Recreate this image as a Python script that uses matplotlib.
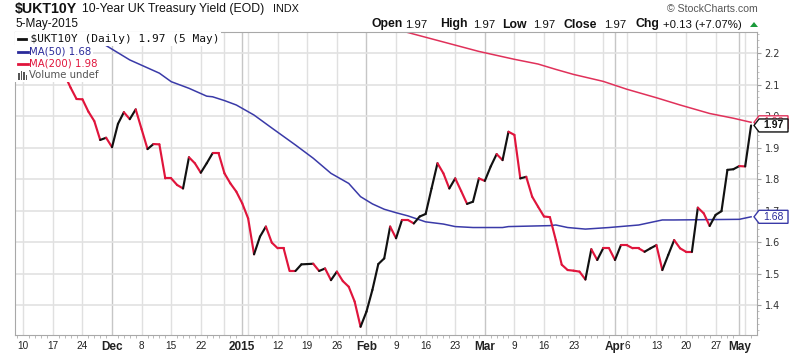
import numpy as np
import pandas as pd
import matplotlib
matplotlib.use("Agg")
import matplotlib.pyplot as plt
from matplotlib.collections import LineCollection
from matplotlib.patches import Polygon, Rectangle
from matplotlib.lines import Line2D

# ---------------- data ----------------
start_date = "2014-11-06"
end_date = "2015-05-05"
holidays = ["2014-12-25", "2015-01-01", "2015-04-03"]

# daily close of $UKT10Y, one value per trading day from start_date
price = [2.22, 2.23, 2.21, 2.24, 2.20, 2.17, 2.16, 2.18, 2.15, 2.13,
         2.09, 2.054, 2.053, 2.014, 1.984, 1.924, 1.931, 1.901, 1.975, 2.012,
         1.990, 2.021, 1.958, 1.895, 1.911, 1.910, 1.802, 1.802, 1.781, 1.770,
         1.869, 1.850, 1.820, 1.850, 1.882, 1.882, 1.818, 1.786, 1.760, 1.723,
         1.675, 1.561, 1.617, 1.649, 1.598, 1.580, 1.580, 1.508, 1.508, 1.529,
         1.530, 1.531, 1.508, 1.516, 1.479, 1.506, 1.476, 1.458, 1.411, 1.331,
         1.379, 1.448, 1.530, 1.548, 1.649, 1.612, 1.670, 1.670, 1.659, 1.681,
         1.689, 1.770, 1.850, 1.818, 1.770, 1.802, 1.762, 1.721, 1.728, 1.802,
         1.794, 1.840, 1.879, 1.860, 1.950, 1.940, 1.802, 1.807, 1.744, 1.712,
         1.681, 1.679, 1.606, 1.528, 1.511, 1.509, 1.506, 1.481, 1.577, 1.543,
         1.580, 1.580, 1.543, 1.590, 1.590, 1.580, 1.580, 1.569, 1.580, 1.590,
         1.511, 1.559, 1.606, 1.580, 1.569, 1.569, 1.709, 1.691, 1.651, 1.686,
         1.698, 1.829, 1.831, 1.841, 1.840, 1.970]

ma50_dates = ["2014-11-14", "2014-11-24", "2014-11-27", "2014-12-04", "2014-12-11",
              "2014-12-15", "2014-12-18", "2014-12-23", "2014-12-24", "2014-12-29",
              "2014-12-31", "2015-01-06", "2015-01-09", "2015-01-15", "2015-01-20",
              "2015-01-23", "2015-01-28", "2015-01-30", "2015-02-03", "2015-02-05",
              "2015-02-09", "2015-02-11", "2015-02-16", "2015-02-19", "2015-02-23",
              "2015-02-26", "2015-03-05", "2015-03-06", "2015-03-17", "2015-03-18",
              "2015-03-20", "2015-03-25", "2015-03-31", "2015-04-08", "2015-04-14",
              "2015-04-16", "2015-05-01", "2015-05-05"]
ma50_vals = [2.31, 2.265, 2.235, 2.178, 2.136,
             2.109, 2.088, 2.063, 2.061, 2.049,
             2.035, 2.003, 1.962, 1.908, 1.866,
             1.818, 1.786, 1.744, 1.721, 1.704,
             1.693, 1.683, 1.664, 1.657, 1.649,
             1.646, 1.646, 1.649, 1.652, 1.654,
             1.646, 1.641, 1.646, 1.654, 1.670,
             1.670, 1.672, 1.68]

ma200_dates = ["2015-02-09", "2015-02-13", "2015-02-20", "2015-02-27", "2015-03-09",
               "2015-03-13", "2015-03-18", "2015-03-23", "2015-03-30", "2015-04-06",
               "2015-04-13", "2015-04-17", "2015-04-24", "2015-04-30", "2015-05-05"]
ma200_vals = [2.275, 2.255, 2.23, 2.205, 2.18,
              2.165, 2.148, 2.132, 2.11, 2.085,
              2.058, 2.035, 2.008, 1.993, 1.98]

tick_dates = ["2014-11-10", "2014-11-17", "2014-11-24", "2014-12-01", "2014-12-08",
              "2014-12-15", "2014-12-22", "2014-12-29", "2015-01-02", "2015-01-05",
              "2015-01-12", "2015-01-19", "2015-01-26", "2015-02-02", "2015-02-09",
              "2015-02-16", "2015-02-23", "2015-03-02", "2015-03-09", "2015-03-16",
              "2015-03-23", "2015-03-30", "2015-04-01", "2015-04-06", "2015-04-13",
              "2015-04-20", "2015-04-27", "2015-05-01", "2015-05-04"]
tick_labels = ["10", "17", "24", "Dec", "8", "15", "22", "", "2015", "",
               "12", "19", "26", "Feb", "9", "16", "23", "Mar", "9", "16",
               "23", "", "Apr", "6", "13", "20", "27", "May", ""]
bold_labels = ["Dec", "2015", "Feb", "Mar", "Apr", "May"]
y_ticks = [1.4, 1.5, 1.6, 1.7, 1.8, 1.9, 2.0, 2.1, 2.2]

last_close = 1.97
last_ma50 = 1.68
last_ma200 = 1.98

# ---------------- calendar (trading-day axis) ----------------
days = pd.bdate_range(start_date, end_date)
days = days[~days.isin(pd.to_datetime(holidays))]
pos = {d: i for i, d in enumerate(days)}
xs = np.arange(len(days))

def xpos(dl):
    return np.array([pos[pd.Timestamp(d)] for d in dl])

# ---------------- figure ----------------
W, H = 800, 360
fig = plt.figure(figsize=(W / 100, H / 100), dpi=100)
ax_l, ax_r, ax_t, ax_b = 15, 757, 32, 335
ax = fig.add_axes([ax_l / W, 1 - ax_b / H, (ax_r - ax_l) / W, (ax_b - ax_t) / H])
y0, y1 = 1.3048, 2.2667
ax.set_ylim(y0, y1)
ax.set_xlim(0.6, 126.0)

# grid
for d, lab in zip(tick_dates, tick_labels):
    c = "#c6c6c6" if lab in bold_labels else "#e0e0e0"
    ax.axvline(pos[pd.Timestamp(d)], color=c, lw=1.0, zorder=0)
for v in y_ticks:
    ax.axhline(v, color="#e2e2e2", lw=1.2, zorder=0)

# moving averages
ax.plot(xpos(ma50_dates), ma50_vals, color="#3a3aa8", lw=1.1, zorder=2)
ax.plot(xpos(ma200_dates), ma200_vals, color="#e0315a", lw=1.1, zorder=2)

# price line: black when up, red when down
p = np.array(price)
segs = [[(xs[i - 1], p[i - 1]), (xs[i], p[i])] for i in range(1, len(p))]
cols = ["#111111" if p[i] > p[i - 1] else "#e0153c" for i in range(1, len(p))]
lc = LineCollection(segs, colors=cols, linewidths=1.55, capstyle="round",
                    joinstyle="round", zorder=3)
ax.add_collection(lc)

# axes styling
for s in ax.spines.values():
    s.set_color("#a8a8a8")
    s.set_linewidth(0.8)
ax.set_xticks(xpos(tick_dates))
ax.set_xticklabels(tick_labels, fontfamily="Liberation Sans", fontsize=7.2, color="#222222")
for t in ax.get_xticklabels():
    if t.get_text() in bold_labels:
        t.set_fontweight("bold")
        t.set_fontsize(8.5)
ax.set_xticks(xs[1:], minor=True)
ax.tick_params(axis="x", which="major", length=0, pad=4)
ax.tick_params(axis="x", which="minor", length=2, color="#b0b0b0", width=0.6)
ax.yaxis.tick_right()
ax.set_yticks(y_ticks)
ax.set_yticklabels([f"{v:.1f}" for v in y_ticks], fontfamily="DejaVu Sans",
                   fontsize=7, color="#333333")
ax.set_yticks(np.arange(1.32, 2.27, 0.02), minor=True)
ax.tick_params(axis="y", which="major", length=3, color="#a0a0a0", pad=2.5)
ax.tick_params(axis="y", which="minor", length=1.5, color="#b8b8b8", width=0.6)

# ---------------- legend rows (white background) ----------------
def fx(px):
    return px / W

def fy(py):
    return 1 - py / H

fig.text(fx(17), fy(39), "  $UKT10Y (Daily) 1.97 (5 May)", fontfamily="DejaVu Sans Mono",
         fontsize=8, color="#111111", va="center", ha="left", zorder=5,
         bbox=dict(facecolor="white", edgecolor="none", pad=1.2))
fig.text(fx(16), fy(52), "    MA(50) 1.68", fontfamily="DejaVu Sans", fontsize=7.3,
         color="#2a2a9a", va="center", ha="left", zorder=5,
         bbox=dict(facecolor="white", edgecolor="none", pad=1.2))
fig.text(fx(16), fy(64), "    MA(200) 1.98", fontfamily="DejaVu Sans", fontsize=7.3,
         color="#e0153c", va="center", ha="left", zorder=5,
         bbox=dict(facecolor="white", edgecolor="none", pad=1.2))
fig.text(fx(16), fy(75.5), "    Volume undef", fontfamily="DejaVu Sans", fontsize=7.3,
         color="#555555", va="center", ha="left", zorder=5,
         bbox=dict(facecolor="white", edgecolor="none", pad=1.2))
for (xa, xb, yy, c) in [(18, 26, 39, "#111111"), (18, 28, 52, "#2a2a9a"), (18, 28, 64, "#e0153c")]:
    fig.add_artist(Line2D([fx(xa), fx(xb)], [fy(yy), fy(yy)], color=c, lw=2.0, zorder=6))
for bx, bh in [(18, 6), (20.5, 8), (23, 7), (25.5, 5)]:
    fig.add_artist(Rectangle((fx(bx), fy(79.5)), 1.6 / W, bh / H, facecolor="#555555",
                             edgecolor="none", zorder=6))

# ---------------- header ----------------
fig.text(fx(15), fy(8.5), "$UKT10Y", fontfamily="Liberation Sans", fontweight="bold",
         fontsize=10.2, color="#111111", va="center", ha="left")
fig.text(fx(82), fy(9), "10-Year UK Treasury Yield (EOD)", fontfamily="Liberation Sans",
         fontsize=8.8, color="#111111", va="center", ha="left")
fig.text(fx(273), fy(9.5), "INDX", fontfamily="Liberation Sans", fontsize=7.8,
         color="#111111", va="center", ha="left")
fig.text(fx(15), fy(24.5), "5-May-2015", fontfamily="Liberation Sans", fontsize=8.5,
         color="#111111", va="center", ha="left")
fig.text(fx(758), fy(9.5), "\u00a9 StockCharts.com", fontfamily="Liberation Sans",
         fontsize=7.6, color="#555555", va="center", ha="right")

hdr = [("Open", 372, True), ("1.97", 405, False), ("High", 440, True), ("1.97", 473, False),
       ("Low", 502, True), ("1.97", 533, False), ("Close", 564, True), ("1.97", 604, False),
       ("Chg", 635, True), ("+0.13 (+7.07%)", 663, False)]
for txt, xpx, b in hdr:
    fig.text(fx(xpx), fy(24.5), txt, fontfamily="Liberation Sans",
             fontweight="bold" if b else "normal", fontsize=8.8 if b else 8.2,
             color="#111111", va="center", ha="left")
fig.add_artist(Polygon([(fx(750), fy(27)), (fx(758), fy(27)), (fx(754), fy(22))],
                       closed=True, transform=fig.transFigure, facecolor="#1a9a3a",
                       edgecolor="none", zorder=5))

# ---------------- price tags on the right ----------------
def yfig(v):
    return fy(ax_b) + (v - y0) / (y1 - y0) * ((ax_b - ax_t) / H)

def tag(v, edge, txt, tcol, bold, z):
    yf = yfig(v)
    h = 6.5 / H
    poly = Polygon([(fx(754), yf), (fx(759), yf + h), (fx(788), yf + h),
                    (fx(788), yf - h), (fx(759), yf - h)], closed=True,
                   transform=fig.transFigure, facecolor="white", edgecolor=edge,
                   lw=1.0, zorder=z)
    fig.add_artist(poly)
    fig.text(fx(773.5), yf, txt, fontfamily="Liberation Sans",
             fontweight="bold" if bold else "normal", fontsize=7.5, color=tcol,
             ha="center", va="center", zorder=z + 0.5)

tag(last_ma200, "#e0315a", f"{last_ma200:.2f}", "#e0315a", False, 7)
tag(last_close, "#111111", f"{last_close:.2f}", "#111111", True, 8)
tag(last_ma50, "#3a3aa8", f"{last_ma50:.2f}", "#2a2a9a", False, 7)

fig.savefig("out.png", dpi=100, facecolor="white")
